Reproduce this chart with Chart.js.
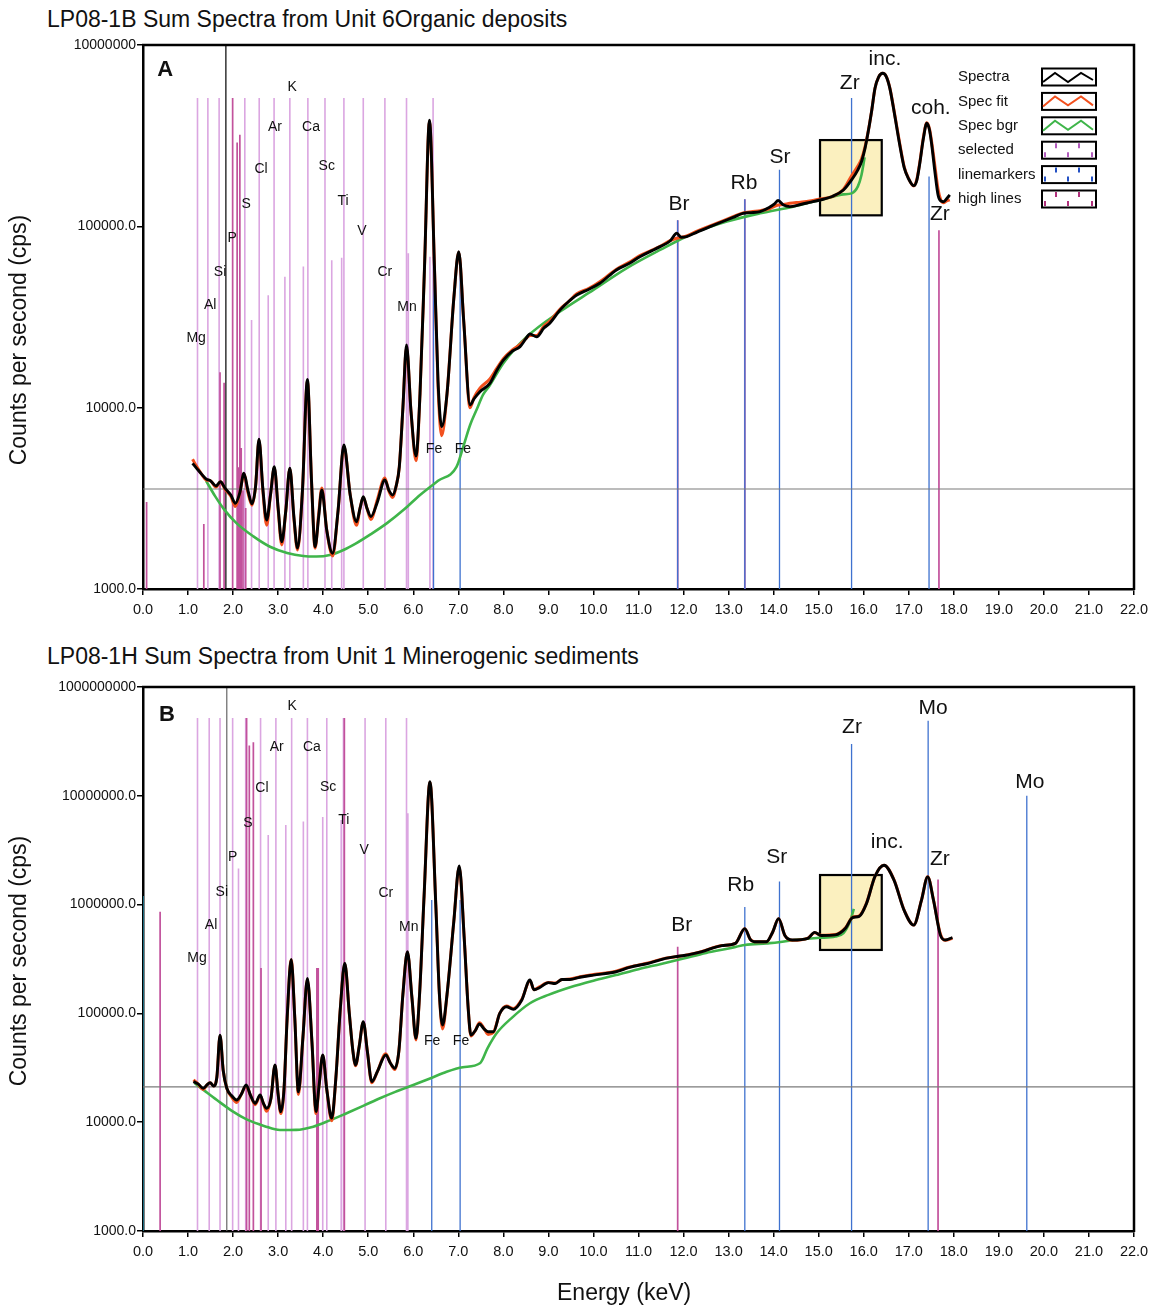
<!DOCTYPE html>
<html><head><meta charset="utf-8">
<script src="https://cdn.jsdelivr.net/npm/chart.js@4.4.1/dist/chart.umd.min.js"></script>
<style>
html,body{margin:0;padding:0;background:#fff;}
body{width:1156px;height:1307px;position:relative;overflow:hidden;font-family:"Liberation Sans",Arial,sans-serif;color:#111;}
.title{position:absolute;left:47px;font-size:23px;line-height:26px;white-space:nowrap;}
#tA{top:6px;} #tB{top:643px;}
canvas{position:absolute;left:0;}
#cA{top:0;} #cB{top:640px;}
#xt{position:absolute;top:1279px;left:557px;font-size:23px;line-height:26px;white-space:nowrap;}
</style></head>
<body>
<div class="title" id="tA">LP08-1B Sum Spectra from Unit 6Organic deposits</div>
<div class="title" id="tB">LP08-1H Sum Spectra from Unit 1 Minerogenic sediments</div>
<canvas id="cA" width="1156" height="640"></canvas>
<canvas id="cB" width="1156" height="667"></canvas>
<div id="xt">Energy (keV)</div>
<script>
// ================= DATA =================
const xTicks = [0,1,2,3,4,5,6,7,8,9,10,11,12,13,14,15,16,17,18,19,20,21,22];
const yTicksA = [1000,10000,100000,1000000];
const yTickLabelsA = ["1000.0","10000.0","100000.0","10000000"];
const yTicksB = [1000,10000,100000,1000000,10000000,100000000];
const yTickLabelsB = ["1000.0","10000.0","100000.0","1000000.0","10000000.0","1000000000"];

// Panel A spectrum (energy keV, counts per second)
const specE_A = [1.10,1.20,1.30,1.40,1.50,1.62,1.72,1.82,1.95,2.05,2.15,2.24,2.33,2.42,2.50,2.575,2.66,2.745,2.83,2.915,3.00,3.08,3.17,3.26,3.35,3.43,3.54,3.65,3.74,3.82,3.90,3.97,4.08,4.21,4.33,4.46,4.60,4.74,4.82,4.89,4.97,5.06,5.20,5.37,5.46,5.54,5.62,5.69,5.77,5.85,5.95,6.06,6.15,6.25,6.36,6.47,6.55,6.63,6.75,6.90,7.01,7.12,7.26,7.35,7.48,7.70,7.85,8.00,8.20,8.37,8.50,8.59,8.74,8.90,9.03,9.26,9.45,9.63,9.90,10.14,10.51,10.80,11.03,11.30,11.48,11.70,11.85,11.95,12.07,12.30,12.59,12.90,13.10,13.32,13.50,13.70,13.90,14.02,14.10,14.22,14.36,14.60,14.80,15.03,15.30,15.55,15.73,15.87,15.95,16.03,16.10,16.18,16.25,16.33,16.42,16.50,16.58,16.68,16.80,16.90,16.99,17.11,17.18,17.25,17.32,17.40,17.46,17.51,17.58,17.65,17.71,17.77,17.84,17.91];
const spectraA = [4930,4600,4300,4050,3950,3700,3900,3600,3300,2970,3400,4350,3500,2950,3700,6700,3600,2400,3300,4720,2800,1820,2700,4630,2500,1680,3500,14300,4000,1710,2500,3520,2100,1575,2700,6220,3300,2350,2800,3230,2800,2510,3000,3990,3500,3300,3700,4720,10000,22200,9500,5410,12000,60000,385000,60000,14000,7850,12000,40000,72400,30000,10350,11200,12250,13600,16000,18300,20500,21700,24000,25500,24600,27500,29200,34600,38500,41800,45000,48500,57500,62500,68000,73500,77300,83000,91600,87000,87800,93000,99600,107000,112000,118000,119000,120600,127000,133000,138700,131000,128400,132000,135500,139700,146000,158600,180200,205000,227000,270000,333000,440000,577000,665000,698000,670000,577000,420000,281000,210000,184000,167600,180000,227000,300000,370000,340000,281000,200000,149000,138000,136700,142000,149000];
const specFitA = [5200,4700,4300,4000,3950,3650,3900,3550,3250,2850,3400,4300,3400,2900,3700,6600,3500,2250,3300,4650,2750,1750,2700,4600,2450,1640,3500,14000,4000,1680,2600,3600,2100,1520,2700,6100,3300,2250,2800,3200,2800,2420,3100,4100,3450,3200,3700,4720,10000,21500,9500,5100,12000,60000,380000,60000,13000,7000,12000,40000,72000,30000,10000,11400,12800,14400,16400,18600,20800,22300,24000,25000,25000,28200,30000,35000,38500,42500,45500,49500,58000,63500,69000,74000,77500,83500,86000,87000,88500,94000,100500,108000,113000,118500,120500,122000,125000,129000,131000,132000,134000,136000,138000,141500,146000,160000,190000,215000,235000,275000,335000,440000,577000,665000,698000,672000,580000,425000,285000,212000,185000,167000,182000,230000,305000,372000,345000,290000,215000,160000,140000,135000,138000,140000];
const bgrE_A = [1.40,1.60,1.80,2.08,2.45,2.82,3.20,3.56,3.85,4.15,4.45,4.74,5.05,5.41,5.80,6.15,6.55,6.96,7.11,7.26,7.41,7.55,7.70,8.00,8.52,9.26,10.00,10.74,11.48,12.22,12.96,13.70,14.43,15.18,15.55,15.73,15.87,15.95,16.02];
const specBgrA = [3950,3250,2750,2300,1950,1710,1580,1520,1510,1540,1640,1790,2000,2300,2750,3300,3950,4720,6090,8000,9800,11800,13300,17600,24600,33900,44600,58800,74100,91600,106200,118000,128400,142800,150000,152000,166000,192000,240000];

// Panel B spectrum
const specE_B = [1.12,1.22,1.34,1.42,1.49,1.57,1.64,1.71,1.78,1.86,1.97,2.08,2.18,2.29,2.39,2.49,2.60,2.67,2.745,2.84,2.93,3.00,3.06,3.13,3.20,3.29,3.37,3.45,3.55,3.65,3.75,3.84,3.91,3.99,4.08,4.19,4.28,4.38,4.48,4.58,4.66,4.72,4.80,4.89,4.98,5.08,5.20,5.39,5.49,5.59,5.68,5.77,5.87,5.97,6.06,6.14,6.24,6.37,6.50,6.58,6.65,6.75,6.90,7.02,7.13,7.22,7.28,7.38,7.47,7.57,7.66,7.78,7.92,8.07,8.22,8.41,8.59,8.68,8.80,9.00,9.15,9.30,9.48,9.70,10.00,10.48,10.80,11.24,11.60,11.88,12.10,12.39,12.85,13.15,13.36,13.48,13.57,13.84,13.98,14.11,14.25,14.41,14.76,14.91,15.06,15.37,15.60,15.75,15.90,16.06,16.25,16.45,16.67,16.90,17.11,17.28,17.42,17.55,17.70,17.81,17.97];
const spectraB = [23600,22500,20500,22000,23100,21500,26000,63200,30000,20500,17500,16000,18000,22000,17500,14900,17800,15000,13400,16500,33600,18000,12500,20000,90000,314000,90000,19000,60000,210000,55000,12500,22000,41500,20000,10900,25000,110000,289000,100000,45000,33600,50000,83900,45000,23600,29000,41500,35000,31300,45000,150000,369000,140000,59000,150000,1200000,13500000,1000000,150000,78200,150000,700000,2260000,500000,110000,63200,70000,80000,72000,67900,67900,100000,115000,109000,133000,203000,165000,172000,192000,188000,205000,205000,215000,225000,240000,265000,290000,320000,335000,345000,367000,420000,440000,601000,480000,456000,455000,560000,743000,520000,473000,490000,555000,520000,527000,610000,759000,780000,1020000,1820000,2300000,1690000,879000,647000,1090000,1800000,1090000,527000,473000,498000];
const specFitB = [24500,22500,20000,22000,23000,21500,26000,62000,30000,20500,17000,15200,18000,21500,17500,14500,17500,15000,12600,16500,33000,18000,12000,20000,90000,310000,90000,18000,60000,205000,55000,12000,22000,41000,20000,10300,25000,110000,285000,100000,45000,33000,50000,83000,45000,23000,29000,42500,35000,30500,45000,150000,365000,140000,57000,150000,1200000,13300000,1000000,150000,72000,150000,700000,2200000,500000,110000,62000,70000,82000,73000,64000,67000,100000,117000,111000,135000,200000,165000,175000,192000,190000,205000,207000,217000,228000,243000,267000,293000,322000,333000,347000,370000,420000,440000,600000,480000,456000,455000,560000,740000,520000,470000,492000,550000,522000,530000,615000,765000,790000,1030000,1820000,2300000,1700000,885000,650000,1090000,1800000,1100000,540000,470000,490000];
const bgrE_B = [1.15,1.40,1.64,2.00,2.30,2.70,3.04,3.40,3.78,4.15,4.52,4.90,5.26,5.60,6.00,6.40,6.74,7.10,7.48,7.65,7.85,8.20,8.59,9.00,9.50,10.00,10.50,11.00,11.50,12.00,12.50,13.00,13.36,13.84,14.11,14.50,15.00,15.37,15.55,15.70,15.78];
const specBgrB = [22800,19000,16000,12500,10600,9200,8470,8500,9100,10400,12100,14200,16600,19000,22000,25500,29100,32000,34800,48000,65600,92000,124000,148000,175000,200000,225000,255000,285000,320000,360000,395000,425000,440000,450000,475000,495000,509000,548000,706000,912000];

// Element line markers: energies and top values of each vertical line
const selE_A   = [1.21,1.44,1.69,2.26,2.58,2.91,3.26,3.66,4.04,4.46,4.89,5.37,5.85,6.44,2.41,2.78,3.15,3.56,4.19,4.41,5.89,6.37];
const selTop_A = [510000,510000,510000,510000,510000,510000,510000,510000,510000,510000,510000,510000,510000,510000,30400,41700,52700,60000,65000,67000,71000,68000];
const highE_A   = [0.08,1.35,1.71,1.80,1.99,2.09,2.15,2.12,2.18,2.22,2.28,11.87,13.36,17.67];
const highTop_A = [3020,2280,15700,13700,510000,290000,320000,4700,6000,3500,2800,108000,141000,95000];
const markE_A   = [6.45,7.04,11.87,13.36,14.13,15.73,17.45];
const markTop_A = [68000,68000,108000,141000,205000,510000,188000];
const cursorE_A = [1.84];
const hline_A   = [3560];

const selE_B   = [1.21,1.47,1.71,1.99,2.28,2.61,2.95,3.30,3.65,4.08,4.45,4.93,5.39,5.85,2.12,2.78,3.17,3.56,3.99,4.40,5.88];
const selTop_B = [52000000,52000000,52000000,52000000,52000000,52000000,52000000,52000000,52000000,52000000,52000000,52000000,52000000,52000000,2150000,4370000,5400000,5800000,6400000,6000000,6900000];
const highE_B   = [0.38,2.30,2.36,2.45,2.62,3.86,3.89,4.47,11.87,17.65];
const highTop_B = [861000,52000000,29000000,31000000,261000,261000,261000,52000000,409000,1700000];
const markE_B   = [0.0,6.41,7.04,13.36,14.13,15.73,17.43,19.62];
const markTop_B = [1200000,1100000,1100000,950000,1630000,30000000,49000000,10000000];
const cursorE_B = [1.86];
const hline_B   = [21100];

// Annotation labels (energy, cps)
const smallTxtA = ["K","Ar","Ca","Cl","Sc","S","Ti","P","V","Si","Cr","Al","Mn","Mg","Fe","Fe"];
const smallE_A  = [3.31,2.93,3.73,2.62,4.08,2.29,4.44,1.98,4.86,1.71,5.37,1.49,5.86,1.18,6.46,7.10];
const smallV_A  = [586000,353000,353000,207000,215000,133000,138000,86300,94200,56000,56000,36800,35900,24200,5920,5920];
const bigTxtA = ["Br","Rb","Sr","Zr","inc.","coh.","Zr"];
const bigE_A  = [11.90,13.34,14.14,15.69,16.47,17.49,17.69];
const bigV_A  = [133000,173000,241000,617000,837000,450000,116000];
const panelA  = ["A",0.49,728000];

const smallTxtB = ["K","Ar","Ca","Cl","Sc","S","Ti","P","V","Si","Cr","Al","Mn","Mg","Fe","Fe"];
const smallE_B  = [3.31,2.97,3.75,2.64,4.11,2.33,4.46,1.99,4.91,1.75,5.39,1.51,5.90,1.20,6.42,7.06];
const smallV_B  = [66800000,28100000,28100000,11800000,12000000,5620000,6000000,2740000,3180000,1310000,1280000,650000,622000,323000,55700,55700];
const bigTxtB = ["Br","Rb","Sr","Zr","Mo","inc.","Zr","Mo"];
const bigE_B  = [11.96,13.27,14.07,15.74,17.54,16.52,17.69,19.69];
const bigV_B  = [650000,1510000,2740000,42900000,64100000,3760000,2620000,13400000];
const panelB  = ["B",0.53,55300000];

// Highlight boxes [E1,E2] x [V1,V2]
const boxE_A = [15.03,16.40], boxV_A = [115000,299000];
const boxE_B = [15.03,16.40], boxV_B = [383000,1870000];

const legendNames = ["Spectra","Spec fit","Spec bgr","selected","linemarkers","high lines"];

// ================= DRAWING =================
const FF = '"Liberation Sans", Arial, sans-serif';
const C_SPEC='#000000', C_FIT='#f2501e', C_BGR='#3fb54a', C_SEL='#dba6e1', C_HIGH='#c2529c', C_MARK='#3f72cf';

function pts(E,V){return E.map((e,i)=>({x:e,y:V[i]}));}
function vlines(E,T,base){const d=[];for(let i=0;i<E.length;i++){d.push({x:E[i],y:base},{x:E[i],y:T[i]},{x:E[i],y:null});}return d;}

function decor(P){
  return {
    id:'decor'+P.id,
    beforeDatasetsDraw(chart){
      const {ctx,scales:{x,y}}=chart;
      const x1=x.getPixelForValue(P.boxE[0]), x2=x.getPixelForValue(P.boxE[1]);
      const y1=y.getPixelForValue(P.boxV[1]), y2=y.getPixelForValue(P.boxV[0]);
      ctx.save();ctx.fillStyle='#fbf0bf';ctx.fillRect(x1,y1,x2-x1,y2-y1);
      ctx.lineWidth=2.2;ctx.strokeStyle='#000';ctx.strokeRect(x1,y1,x2-x1,y2-y1);ctx.restore();
    },
    afterDatasetsDraw(chart){
      const {ctx,chartArea:a,scales:{x,y}}=chart;
      ctx.save();
      ctx.strokeStyle='#000';ctx.lineWidth=2.5;
      ctx.beginPath();ctx.moveTo(a.left-1,a.top);ctx.lineTo(a.right,a.top);ctx.lineTo(a.right,a.bottom+1);ctx.stroke();
      ctx.fillStyle='#111';ctx.textAlign='center';ctx.textBaseline='middle';
      ctx.font='14px '+FF;
      P.sT.forEach((t,i)=>ctx.fillText(t,x.getPixelForValue(P.sE[i]),y.getPixelForValue(P.sV[i])));
      ctx.font='21px '+FF;
      P.bT.forEach((t,i)=>ctx.fillText(t,x.getPixelForValue(P.bE[i]),y.getPixelForValue(P.bV[i])));
      ctx.font='bold 22px '+FF;
      ctx.fillText(P.panel[0],x.getPixelForValue(P.panel[1]),y.getPixelForValue(P.panel[2]));
      // y title
      ctx.save();ctx.translate(20,P.yTitleY);ctx.rotate(-Math.PI/2);ctx.font='23px '+FF;ctx.fillText('Counts per second (cps)',0,0);ctx.restore();
      if(P.legend) drawLegend(ctx);
      ctx.restore();
    }
  };
}

function drawLegend(ctx){
  const x0=958,y0=77,dy=24.4,bx=1042,bw=54,bh=17;
  ctx.textAlign='left';ctx.textBaseline='middle';
  legendNames.forEach((n,i)=>{
    const yc=y0+i*dy;
    ctx.font='15px '+FF;ctx.fillStyle='#111';ctx.fillText(n,x0,yc);
    ctx.fillStyle='#fff';ctx.fillRect(bx,yc-bh/2,bw,bh);
    ctx.lineWidth=2;ctx.strokeStyle='#000';ctx.strokeRect(bx,yc-bh/2,bw,bh);
    if(i<3){
      ctx.lineWidth=2;ctx.strokeStyle=[C_SPEC,C_FIT,C_BGR][i];ctx.beginPath();
      const s=i===0?-1:1;
      const xs=[1,13,26,39,51],ys=[s*-5,s*4,s*-5,s*4,s*-3];
      if(i>0){ys[0]=5;ys[1]=-5;ys[2]=4;ys[3]=-5;ys[4]=4;}
      xs.forEach((dx,k)=>{k?ctx.lineTo(bx+dx,yc+ys[k]):ctx.moveTo(bx+dx,yc+ys[k]);});
      ctx.stroke();
    } else {
      ctx.lineWidth=2;ctx.strokeStyle=['#b25bbd','#2350c4','#b0307c'][i-3];
      [3,14,26,37,50].forEach((dx,k)=>{ctx.beginPath();
        if(k%2){ctx.moveTo(bx+dx,yc-7);ctx.lineTo(bx+dx,yc-2);}else{ctx.moveTo(bx+dx,yc+2);ctx.lineTo(bx+dx,yc+7);}
        ctx.stroke();});
    }
  });
}

function makeChart(id,P){
  const line={pointRadius:0,pointHoverRadius:0,fill:false,tension:0,spanGaps:false};
  const ds=[
    Object.assign({label:'Spectra',data:pts(P.specE,P.spec),borderColor:C_SPEC,borderWidth:2.9,cubicInterpolationMode:'monotone',order:1},line),
    Object.assign({label:'Spec fit',data:pts(P.specE,P.fit),borderColor:C_FIT,borderWidth:3,cubicInterpolationMode:'monotone',order:2},line),
    Object.assign({label:'Spec bgr',data:pts(P.bgrE,P.bgr),borderColor:C_BGR,borderWidth:2.6,cubicInterpolationMode:'monotone',order:3},line),
    Object.assign({label:'cursor',data:vlines(P.cursorE,[P.yMax],P.yMin),borderColor:P.cursorColor,borderWidth:1.2,order:4},line),
    Object.assign({label:'hline',data:[{x:0,y:P.hline[0]},{x:22,y:P.hline[0]}],borderColor:'#7a7a7a',borderWidth:1.2,order:4},line),
    Object.assign({label:'linemarkers',data:vlines(P.markE,P.markT,P.yMin),borderColor:C_MARK,borderWidth:1.3,order:5},line),
    Object.assign({label:'high lines',data:vlines(P.highE,P.highT,P.yMin),borderColor:C_HIGH,borderWidth:1.7,order:6},line),
    Object.assign({label:'selected',data:vlines(P.selE,P.selT,P.yMin),borderColor:C_SEL,borderWidth:1.6,order:7},line)
  ];
  if(P.id==='B'){ds[5].segment={borderColor:c=>(c.p0.parsed.x===0?'#2aa6c4':undefined)};}
  const axisGrid={display:true,drawOnChartArea:false,drawTicks:true,tickLength:6,color:'#000',lineWidth:1.5};
  return new Chart(document.getElementById(id),{
    type:'line',
    data:{datasets:ds},
    options:{
      responsive:false,animation:false,events:[],
      layout:{padding:{left:0,right:22,top:P.padTop,bottom:P.padBottom}},
      plugins:{legend:{display:false},tooltip:{enabled:false},title:{display:false}},
      scales:{
        x:{type:'linear',min:0,max:22,
          afterBuildTicks:s=>{s.ticks=xTicks.map(v=>({value:v}));},
          ticks:{autoSkip:false,maxRotation:0,minRotation:0,color:'#111',font:{size:14.5,family:FF},padding:6,callback:v=>Number(v).toFixed(1)},
          grid:axisGrid,border:{display:true,color:'#000',width:2.5},
          afterFit:s=>{s.height=40;}},
        y:{type:'logarithmic',min:P.yMin,max:P.yMax,
          afterBuildTicks:s=>{s.ticks=P.yTicks.map(v=>({value:v}));},
          ticks:{autoSkip:false,color:'#111',font:{size:14,family:FF},padding:1,callback:(v,i)=>P.yLabels[i]},
          grid:axisGrid,border:{display:true,color:'#000',width:2.5},
          afterFit:s=>{s.width=143;}}
      }
    },
    plugins:[decor(P)]
  });
}

makeChart('cA',{id:'A',yMin:1000,yMax:1000000,yTicks:yTicksA,yLabels:yTickLabelsA,padTop:45,padBottom:11,
  specE:specE_A,spec:spectraA,fit:specFitA,bgrE:bgrE_A,bgr:specBgrA,
  selE:selE_A,selT:selTop_A,highE:highE_A,highT:highTop_A,markE:markE_A,markT:markTop_A,
  cursorE:cursorE_A,cursorColor:'#000',hline:hline_A,
  sT:smallTxtA,sE:smallE_A,sV:smallV_A,bT:bigTxtA,bE:bigE_A,bV:bigV_A,panel:panelA,
  boxE:boxE_A,boxV:boxV_A,legend:true,yTitleY:340});
makeChart('cB',{id:'B',yMin:1000,yMax:100000000,yTicks:yTicksB,yLabels:yTickLabelsB,padTop:47,padBottom:36,
  specE:specE_B,spec:spectraB,fit:specFitB,bgrE:bgrE_B,bgr:specBgrB,
  selE:selE_B,selT:selTop_B,highE:highE_B,highT:highTop_B,markE:markE_B,markT:markTop_B,
  cursorE:cursorE_B,cursorColor:'#666',hline:hline_B,
  sT:smallTxtB,sE:smallE_B,sV:smallV_B,bT:bigTxtB,bE:bigE_B,bV:bigV_B,panel:panelB,
  boxE:boxE_B,boxV:boxV_B,legend:false,yTitleY:321});
</script>
</body></html>
